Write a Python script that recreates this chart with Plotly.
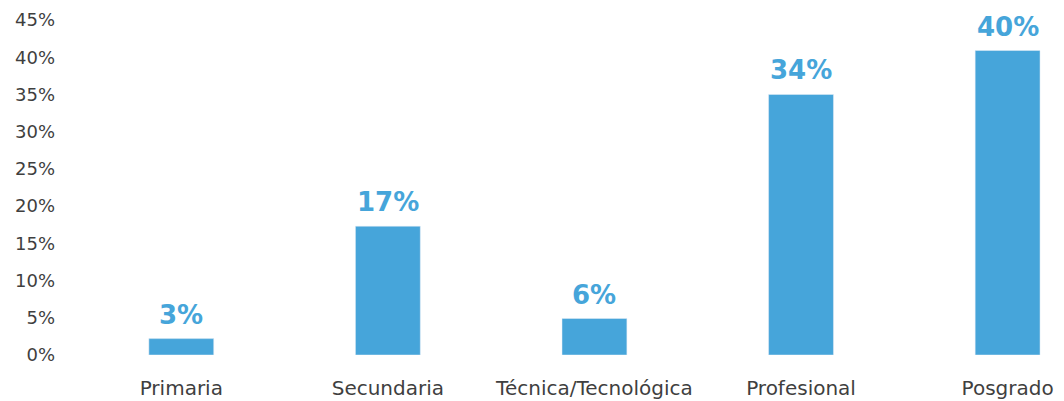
import plotly.graph_objects as go

categories = ["Primaria", "Secundaria", "Técnica/Tecnológica", "Profesional", "Posgrado"]
bar_values = [2.2, 17.3, 4.9, 35.0, 40.9]
value_labels = ["3%", "17%", "6%", "34%", "40%"]
y_ticks = [0, 5, 10, 15, 20, 25, 30, 35, 40, 45]
y_tick_text = [f"{v}%" for v in y_ticks]

BLUE = "#46A5DA"
GREY = "#3f3f3f"

fig = go.Figure()
fig.add_trace(go.Bar(
    x=categories, y=bar_values, marker_color=BLUE, width=0.314,
    hoverinfo="skip",
))
for c, v, t in zip(categories, bar_values, value_labels):
    fig.add_annotation(x=c, y=v, text=f"<b>{t}</b>", showarrow=False,
                       yanchor="bottom", yshift=7,
                       font=dict(family="DejaVu Sans", size=26, color=BLUE))

fig.update_layout(
    width=1064, height=401,
    margin=dict(l=70, r=8, t=12, b=54, autoexpand=False),
    paper_bgcolor="white", plot_bgcolor="white",
    showlegend=False,
    font=dict(family="DejaVu Sans", size=18, color=GREY),
    xaxis=dict(range=[-0.5, 4.273], showgrid=False, showline=False, zeroline=False,
               automargin=False,
               ticks="", ticklabelstandoff=19, tickfont=dict(size=20, color=GREY)),
    yaxis=dict(range=[0, 45], tickvals=y_ticks, ticktext=y_tick_text,
               showgrid=False, showline=False, zeroline=False, ticks="",
               automargin=False,
               ticklabelstandoff=22, tickfont=dict(size=18, color=GREY)),
)
fig.write_html("out.html")
